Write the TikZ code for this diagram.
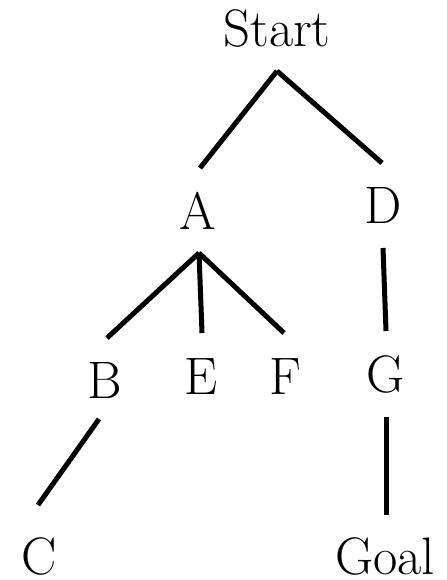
\documentclass[tikz,border=0pt]{standalone}
\usepackage{tikz}
\begin{document}
\begin{tikzpicture}[x=0.01cm, y=-0.01cm,
		lbl/.style={anchor=base, inner sep=0pt, font=\fontsize{15}{18}\selectfont},
		edge/.style={line width=0.05cm, black}]
	% Khung hình
	\useasboundingbox (0,0) rectangle (446,580);
	
	% Các đỉnh của cây
	\node[lbl] (start) at (277,47) {Start};
	\node[lbl] (a) at (198,230) {A};
	\node[lbl] (d) at (383,224) {D};
	\node[lbl] (b) at (105,398) {B};
	\node[lbl] (e) at (201,394) {E};
	\node[lbl] (f) at (285,394) {F};
	\node[lbl] (g) at (386,392) {G};
	\node[lbl] (c) at (39,574) {C};
	\node[lbl] (goal) at (385,574) {Goal};
	
	% Các cạnh
	\draw[edge] ([shift={(0,24)}]start.base) -- ([shift={(2,-62)}]a.base);
	\draw[edge] ([shift={(0,24)}]start.base) -- ([shift={(-1,-61)}]d.base);
	\draw[edge] ([shift={(1,23)}]a.base) -- ([shift={(2,-60)}]b.base);
	\draw[edge] ([shift={(1,23)}]a.base) -- ([shift={(1,-61)}]e.base);
	\draw[edge] ([shift={(1,23)}]a.base) -- ([shift={(-1,-61)}]f.base);
	\draw[edge] ([shift={(0,24)}]d.base) -- ([shift={(0,-61)}]g.base);
	\draw[edge] ([shift={(-6,21)}]b.base) -- ([shift={(-1,-69)}]c.base);
	\draw[edge] ([shift={(0,25)}]g.base) -- ([shift={(1,-59)}]goal.base);
\end{tikzpicture}
\end{document}
